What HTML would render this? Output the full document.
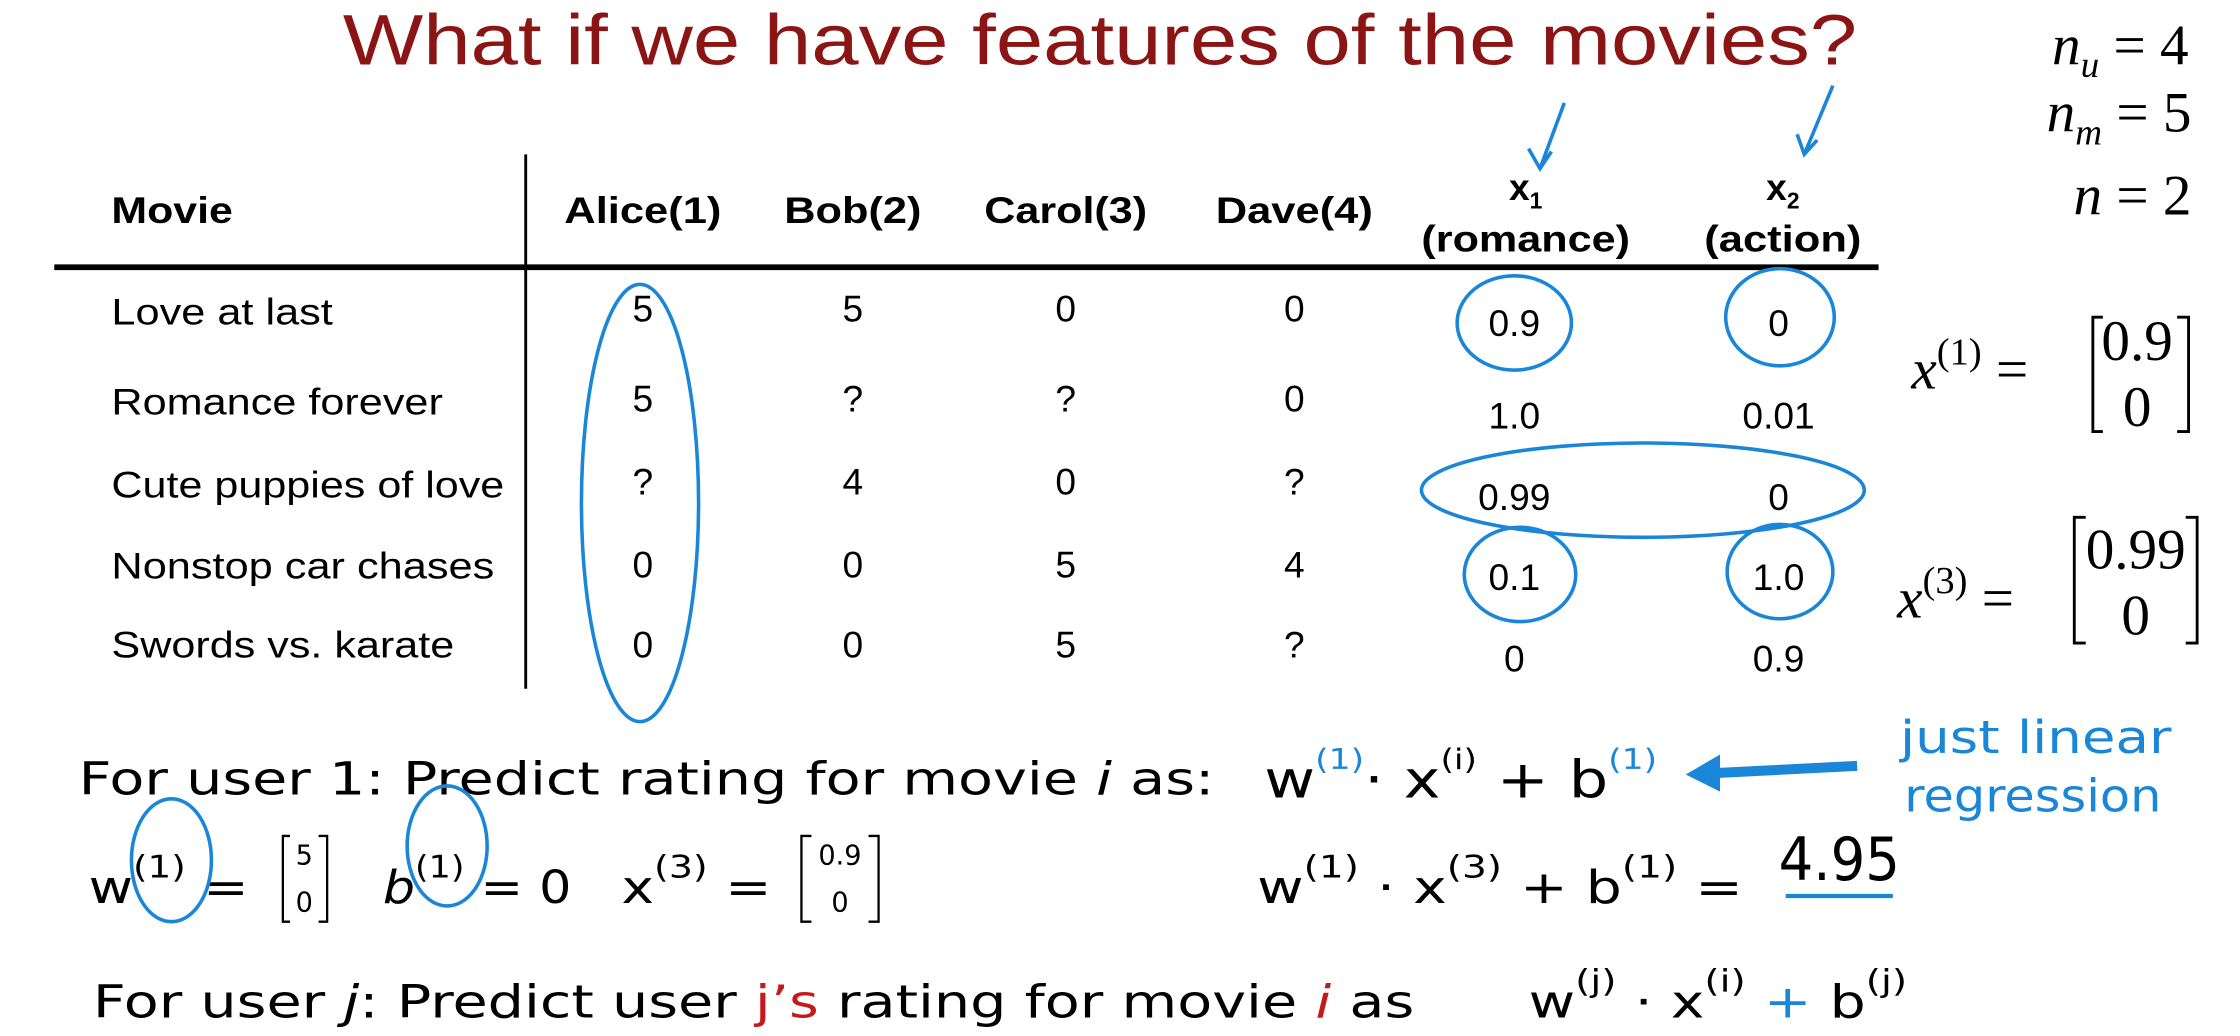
<!DOCTYPE html>
<html><head><meta charset="utf-8"><style>
html,body{margin:0;padding:0;background:#fff;}
svg{display:block;}
text{font-family:"Liberation Sans",sans-serif;}
.m text, text.m{font-family:"Liberation Serif",serif;}
text.d{font-family:"DejaVu Sans",sans-serif;}
.b{fill:none;stroke:#1a86d8;stroke-width:2.5;}
</style></head><body>
<svg width="2240" height="1036" viewBox="0 0 1568 725" preserveAspectRatio="none" xmlns="http://www.w3.org/2000/svg">
<rect width="1568" height="725" fill="#fff"/>
<text x="240" y="45" font-size="50" fill="#8b1414" textLength="1060" lengthAdjust="spacingAndGlyphs">What if we have features of the movies?</text>
<g class="m" font-size="40" font-style="italic" text-anchor="end">
<text x="1532" y="45">n<tspan font-size="26" dy="9">u</tspan><tspan dy="-9" font-style="normal"> = 4</tspan></text>
<text x="1534" y="92">n<tspan font-size="26" dy="9">m</tspan><tspan dy="-9" font-style="normal"> = 5</tspan></text>
<text x="1534" y="150">n<tspan font-style="normal"> = 2</tspan></text>
</g>
<!-- table -->
<line x1="368" y1="108" x2="368" y2="482" stroke="#000" stroke-width="2"/>
<line x1="38" y1="187" x2="1315" y2="187" stroke="#000" stroke-width="4"/>
<g font-size="26" font-weight="bold" text-anchor="middle">
<text x="78" y="156" text-anchor="start" textLength="85" lengthAdjust="spacingAndGlyphs">Movie</text>
<text x="450" y="156" textLength="110" lengthAdjust="spacingAndGlyphs">Alice(1)</text>
<text x="597" y="156" textLength="96" lengthAdjust="spacingAndGlyphs">Bob(2)</text>
<text x="746" y="156" textLength="114" lengthAdjust="spacingAndGlyphs">Carol(3)</text>
<text x="906" y="156" textLength="110" lengthAdjust="spacingAndGlyphs">Dave(4)</text>
<text x="1068" y="140">x<tspan font-size="16" dy="6">1</tspan></text>
<text x="1068" y="176" textLength="146" lengthAdjust="spacingAndGlyphs">(romance)</text>
<text x="1248" y="140">x<tspan font-size="16" dy="6">2</tspan></text>
<text x="1248" y="176" textLength="110" lengthAdjust="spacingAndGlyphs">(action)</text>
</g>
<g font-size="26" text-anchor="middle">
<text x="78" y="227" text-anchor="start" textLength="155" lengthAdjust="spacingAndGlyphs">Love at last</text>
<text x="78" y="290" text-anchor="start" textLength="232" lengthAdjust="spacingAndGlyphs">Romance forever</text>
<text x="78" y="348" text-anchor="start" textLength="275" lengthAdjust="spacingAndGlyphs">Cute puppies of love</text>
<text x="78" y="405" text-anchor="start" textLength="268" lengthAdjust="spacingAndGlyphs">Nonstop car chases</text>
<text x="78" y="460" text-anchor="start" textLength="240" lengthAdjust="spacingAndGlyphs">Swords vs. karate</text>
<text x="450" y="225">5</text><text x="597" y="225">5</text><text x="746" y="225">0</text><text x="906" y="225">0</text>
<text x="450" y="288">5</text><text x="597" y="288">?</text><text x="746" y="288">?</text><text x="906" y="288">0</text>
<text x="450" y="346">?</text><text x="597" y="346">4</text><text x="746" y="346">0</text><text x="906" y="346">?</text>
<text x="450" y="404">0</text><text x="597" y="404">0</text><text x="746" y="404">5</text><text x="906" y="404">4</text>
<text x="450" y="460">0</text><text x="597" y="460">0</text><text x="746" y="460">5</text><text x="906" y="460">?</text>
<text x="1060" y="235">0.9</text><text x="1245" y="235">0</text>
<text x="1060" y="300">1.0</text><text x="1245" y="300">0.01</text>
<text x="1060" y="357">0.99</text><text x="1245" y="357">0</text>
<text x="1060" y="413">0.1</text><text x="1245" y="413">1.0</text>
<text x="1060" y="470">0</text><text x="1245" y="470">0.9</text>
</g>
<!-- blue annotations -->
<ellipse class="b" cx="448" cy="352" rx="41" ry="153"/>
<ellipse class="b" cx="1060" cy="226" rx="40" ry="33" stroke-width="3"/>
<ellipse class="b" cx="1246" cy="222" rx="38" ry="34" stroke-width="3"/>
<ellipse class="b" cx="1150" cy="343" rx="155" ry="33" stroke-width="3"/>
<ellipse class="b" cx="1064" cy="402" rx="39" ry="33" stroke-width="3"/>
<ellipse class="b" cx="1246" cy="400" rx="37" ry="33" stroke-width="3"/>
<path class="b" d="M1095 72 L1078 118 M1070 104 L1078 118 L1086 106"/>
<path class="b" d="M1283 60 L1263 108 M1258 94 L1263 108 L1272 98"/>
<!-- x vectors -->
<g class="m" font-size="40">
<text x="1338" y="272" font-style="italic">x<tspan font-style="normal" font-size="27" dy="-17">(1)</tspan><tspan font-style="normal" dy="17"> =</tspan></text>
<text x="1496" y="252" text-anchor="middle">0.9</text>
<text x="1496" y="298" text-anchor="middle">0</text>
<text x="1328" y="432" font-style="italic">x<tspan font-style="normal" font-size="27" dy="-17">(3)</tspan><tspan font-style="normal" dy="17"> =</tspan></text>
<text x="1495" y="398" text-anchor="middle">0.99</text>
<text x="1495" y="444" text-anchor="middle">0</text>
</g>
<path d="M1472 222 L1465 222 L1465 302 L1472 302 M1524 222 L1532 222 L1532 302 L1524 302" fill="none" stroke="#000" stroke-width="2"/>
<path d="M1460 362 L1452 362 L1452 450 L1460 450 M1530 362 L1538 362 L1538 450 L1530 450" fill="none" stroke="#000" stroke-width="2"/>
<!-- prediction lines -->
<g font-size="32">
<text class="d" x="55" y="556" textLength="795" lengthAdjust="spacingAndGlyphs">For user 1: Predict rating for movie <tspan font-style="italic">i</tspan> as:</text>
<text class="d" x="885" y="558" font-size="36" textLength="275" lengthAdjust="spacingAndGlyphs">w<tspan font-size="20" dy="-20" fill="#1a86d8">(1)</tspan><tspan dy="20">· x</tspan><tspan font-size="20" dy="-20">(i)</tspan><tspan dy="20"> + b</tspan><tspan font-size="20" dy="-20" fill="#1a86d8">(1)</tspan></text>
<text class="d" x="1330" y="527" fill="#1a86d8" textLength="190" lengthAdjust="spacingAndGlyphs">just  linear</text>
<text class="d" x="1333" y="568" fill="#1a86d8" textLength="180" lengthAdjust="spacingAndGlyphs">regression</text>
<text class="d" x="62" y="632" textLength="112" lengthAdjust="spacingAndGlyphs">w<tspan font-size="22" dy="-18">(1)</tspan><tspan dy="18"> =</tspan></text>
<text class="d" x="268" y="632" textLength="132" lengthAdjust="spacingAndGlyphs"><tspan font-style="italic">b</tspan><tspan font-size="22" dy="-18">(1)</tspan><tspan dy="18"> = 0</tspan></text>
<text class="d" x="435" y="632" textLength="105" lengthAdjust="spacingAndGlyphs">x<tspan font-size="22" dy="-18">(3)</tspan><tspan dy="18"> =</tspan></text>
<text class="d" x="880" y="632" textLength="340" lengthAdjust="spacingAndGlyphs">w<tspan font-size="22" dy="-18">(1)</tspan><tspan dy="18"> · x</tspan><tspan font-size="22" dy="-18">(3)</tspan><tspan dy="18"> + b</tspan><tspan font-size="22" dy="-18">(1)</tspan><tspan dy="18"> =</tspan></text>
<text class="d" x="1245" y="616" font-size="42" textLength="85" lengthAdjust="spacingAndGlyphs">4.95</text>
<text class="d" x="65" y="712" textLength="925" lengthAdjust="spacingAndGlyphs">For user <tspan font-style="italic">j</tspan>: Predict user <tspan fill="#c41a1a">j’s</tspan> rating for movie <tspan fill="#c41a1a" font-style="italic">i</tspan> as</text>
<text class="d" x="1070" y="712" textLength="265" lengthAdjust="spacingAndGlyphs">w<tspan font-size="22" dy="-18">(j)</tspan><tspan dy="18"> · x</tspan><tspan font-size="22" dy="-18">(i)</tspan><tspan dy="18" fill="#1a86d8"> + </tspan><tspan>b</tspan><tspan font-size="22" dy="-18">(j)</tspan></text>
</g>
<g font-size="19" text-anchor="middle">
<text class="d" x="213" y="605">5</text><text class="d" x="213" y="638">0</text>
<text class="d" x="588" y="605">0.9</text><text class="d" x="588" y="638">0</text>
</g>
<path d="M203 585 L198 585 L198 645 L203 645 M223 585 L229 585 L229 645 L223 645" fill="none" stroke="#000" stroke-width="1.6"/>
<path d="M568 585 L561 585 L561 645 L568 645 M608 585 L615 585 L615 645 L608 645" fill="none" stroke="#000" stroke-width="1.6"/>
<line x1="1250" y1="627" x2="1325" y2="627" stroke="#1a86d8" stroke-width="3"/>
<ellipse class="b" cx="120" cy="602" rx="28" ry="43" stroke-width="3"/>
<ellipse class="b" cx="313" cy="592" rx="28" ry="42" stroke-width="3"/>
<path d="M1300 536 L1200 541" stroke="#1a86d8" stroke-width="7" fill="none"/>
<path d="M1180 542 L1204 528 L1204 554 Z" fill="#1a86d8"/>
</svg>
</body></html>
